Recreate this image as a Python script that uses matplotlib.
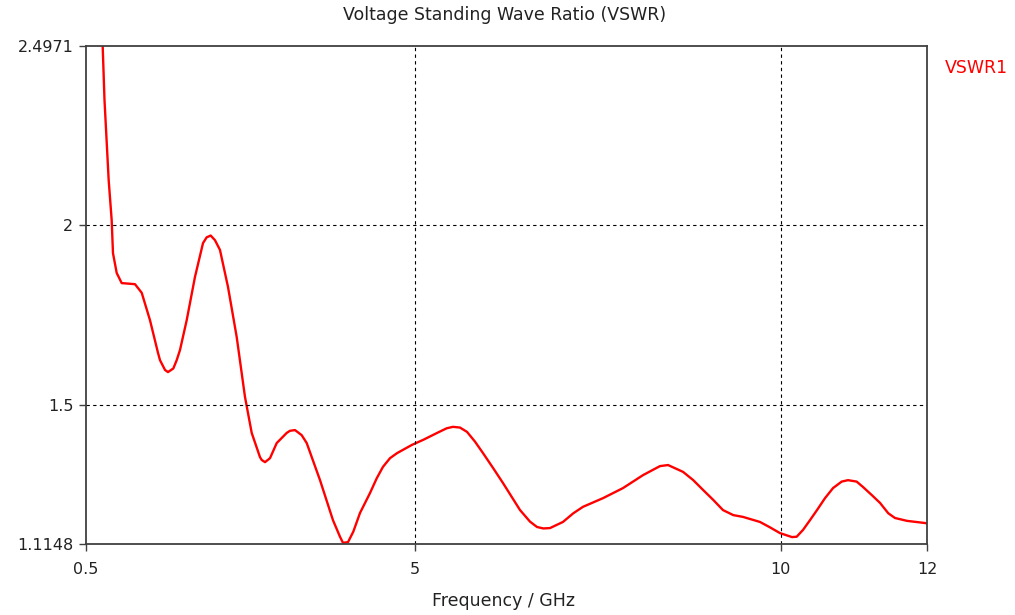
import matplotlib.pyplot as plt

# VSWR curve (frequency in GHz, VSWR)
freq = [0.728, 0.753, 0.810, 0.851, 0.869, 0.920, 0.988, 1.170, 1.262, 1.375,
        1.485, 1.512, 1.580, 1.621, 1.694, 1.740, 1.785, 1.877, 1.990, 2.100,
        2.150, 2.205, 2.264, 2.332, 2.442, 2.561, 2.674, 2.766, 2.879, 2.903,
        2.948, 3.016, 3.108, 3.244, 3.289, 3.358, 3.449, 3.518, 3.700, 3.877,
        3.973, 4.014, 4.083, 4.155, 4.247, 4.383, 4.475, 4.561, 4.657, 4.753,
        4.958, 5.112, 5.300, 5.432, 5.518, 5.614, 5.710, 5.819, 5.929, 6.069,
        6.202, 6.435, 6.571, 6.667, 6.753, 6.845, 7.022, 7.163, 7.296, 7.569,
        7.843, 8.117, 8.349, 8.459, 8.664, 8.804, 8.937, 9.078, 9.210, 9.351,
        9.484, 9.716, 9.853, 9.990, 10.154, 10.218, 10.305, 10.400, 10.496, 10.605,
        10.715, 10.833, 10.920, 11.038, 11.125, 11.243, 11.357, 11.471, 11.562, 11.727,
        11.973, 12.0]
vswr = [2.497, 2.347, 2.125, 2.014, 1.922, 1.867, 1.839, 1.836, 1.812, 1.736,
        1.645, 1.625, 1.598, 1.592, 1.602, 1.625, 1.653, 1.736, 1.856, 1.950,
        1.966, 1.971, 1.958, 1.931, 1.828, 1.689, 1.523, 1.423, 1.356, 1.348,
        1.342, 1.353, 1.395, 1.423, 1.429, 1.431, 1.417, 1.395, 1.292, 1.181,
        1.135, 1.118, 1.120, 1.149, 1.201, 1.256, 1.297, 1.329, 1.353, 1.367,
        1.390, 1.404, 1.423, 1.436, 1.440, 1.438, 1.426, 1.399, 1.367, 1.325,
        1.284, 1.209, 1.177, 1.162, 1.158, 1.159, 1.176, 1.200, 1.218, 1.242,
        1.270, 1.306, 1.331, 1.334, 1.315, 1.292, 1.265, 1.237, 1.209, 1.195,
        1.190, 1.176, 1.161, 1.145, 1.134, 1.135, 1.154, 1.181, 1.209, 1.242,
        1.270, 1.288, 1.292, 1.288, 1.273, 1.251, 1.229, 1.200, 1.187, 1.179,
        1.173, 1.172]

xticks = [0.5, 5, 10, 12]
xtick_labels = ['0.5', '5', '10', '12']
yticks = [1.1148, 1.5, 2, 2.4971]
ytick_labels = ['1.1148', '1.5', '2', '2.4971']

fig = plt.figure(figsize=(10.15, 6.15), dpi=100)
ax = fig.add_axes([86/1015, 1-544/615, 841/1015, 498/615])

ax.plot(freq, vswr, color='red', linewidth=1.7)

ax.set_xlim(0.5, 12)
ax.set_ylim(1.1148, 2.4971)
ax.set_xticks(xticks)
ax.set_xticklabels(xtick_labels)
ax.set_yticks(yticks)
ax.set_yticklabels(ytick_labels)
ax.tick_params(direction='out', length=5, width=1, color='#404040',
               labelsize=11.5, labelcolor='#222222', pad=4)
ax.tick_params(axis='x', pad=8)

# dashed grid only on the inner ticks
for x in [5, 10]:
    ax.axvline(x, color='black', linestyle=(0, (3, 3)), linewidth=0.8)
for y in [1.5, 2]:
    ax.axhline(y, color='black', linestyle=(0, (3, 3)), linewidth=0.8)

for s in ax.spines.values():
    s.set_color('#404040')
    s.set_linewidth(1.3)

fig.text(505/1015, 1-15/615, 'Voltage Standing Wave Ratio (VSWR)', ha='center', va='center',
         fontsize=12.5, color='#222222')
fig.text(504/1015, 1-601/615, 'Frequency / GHz', ha='center', va='center', fontsize=12.5,
         color='#222222')
fig.text(945/1015, 1-68/615, 'VSWR1', color='red', ha='left', va='center', fontsize=12.5)

fig.savefig('out.png', dpi=100)
